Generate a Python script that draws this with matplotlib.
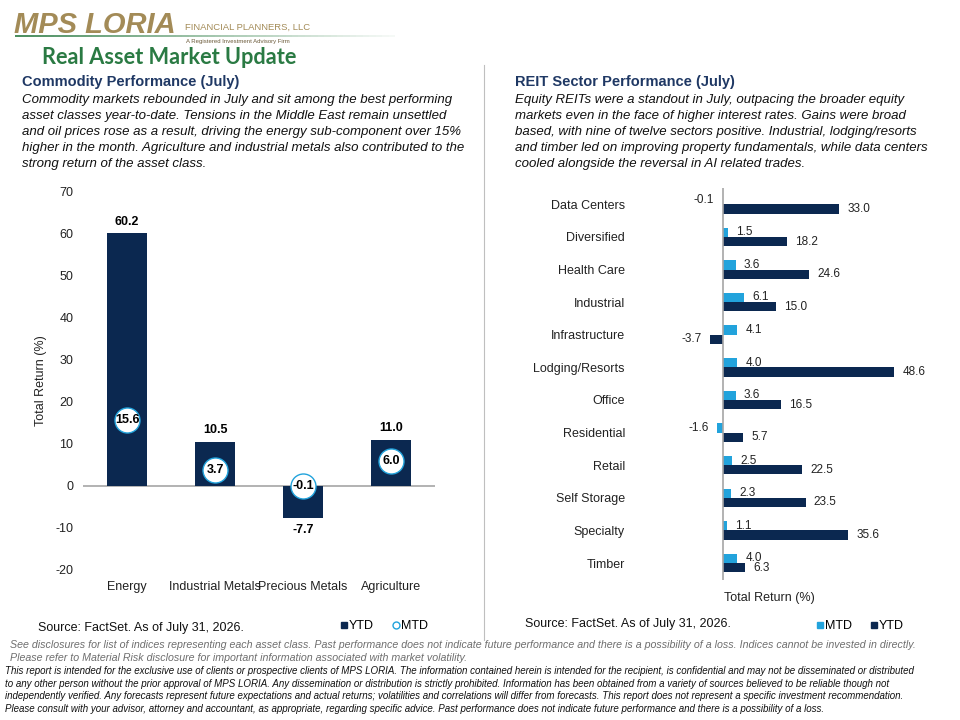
import matplotlib
matplotlib.use('Agg')
import matplotlib.pyplot as plt
from matplotlib.lines import Line2D
from matplotlib.collections import LineCollection
import numpy as np

plt.rcParams['axes.unicode_minus'] = False

# ---- data ----
commodities = ['Energy', 'Industrial Metals', 'Precious Metals', 'Agriculture']
comm_ytd = [60.2, 10.5, -7.7, 11.0]
comm_mtd = [15.6, 3.7, -0.1, 6.0]

sectors = ['Data Centers', 'Diversified', 'Health Care', 'Industrial', 'Infrastructure',
           'Lodging/Resorts', 'Office', 'Residential', 'Retail', 'Self Storage',
           'Specialty', 'Timber']
reit_mtd = [-0.1, 1.5, 3.6, 6.1, 4.1, 4.0, 3.6, -1.6, 2.5, 2.3, 1.1, 4.0]
reit_ytd = [33.0, 18.2, 24.6, 15.0, -3.7, 48.6, 16.5, 5.7, 22.5, 23.5, 35.6, 6.3]

NAVY = '#0b2850'
LIGHT = '#22a3dc'
HEAD = '#1f3864'
GREEN = '#2a7a43'
GOLD = '#a38b57'
ARIAL = ['Liberation Sans', 'DejaVu Sans']

W, H = 960, 720
fig = plt.figure(figsize=(9.6, 7.2), dpi=100)


def px(x, y):
    # pixel coords (from top-left) -> figure fraction
    return x / W, 1 - y / H


def ftext(x, y, s, **kw):
    fx, fy = px(x, y)
    kw.setdefault('family', ARIAL)
    kw.setdefault('va', 'center')
    return fig.text(fx, fy, s, **kw)


def add_axes(l, t, r, b):
    return fig.add_axes([l / W, 1 - b / H, (r - l) / W, (b - t) / H])


# ---- header / logo ----
xs = np.linspace(15, 395, 60)
segs = [[px(xs[i], 36), px(xs[i + 1], 36)] for i in range(len(xs) - 1)]
alphas = np.linspace(1, 0.05, len(segs))
lc = LineCollection(segs, colors=[(0.16, 0.48, 0.26, a) for a in alphas],
                    linewidths=1.2, transform=fig.transFigure)
fig.add_artist(lc)
ftext(14, 25, 'MPS LORIA', fontsize=21, fontweight='bold',
      fontstyle='italic', color=GOLD)
ftext(185, 27, 'FINANCIAL PLANNERS, LLC', fontsize=6.8, color=GOLD)
ftext(186, 42, 'A Registered Investment Advisory Firm', fontsize=4.3, color='#6b5a3a')
ftext(42, 57, 'Real Asset Market Update', family=['Lato', 'DejaVu Sans'],
      fontsize=15.7, fontweight='bold', color=GREEN)

# divider
fig.add_artist(Line2D([484 / W, 484 / W], [1 - 65 / H, 1 - 640 / H],
                      color='#bfbfbf', lw=0.8, transform=fig.transFigure))

# ---- section text ----
ftext(22, 82, 'Commodity Performance (July)', fontsize=10.5, fontweight='bold', color=HEAD)
left_body = [
    'Commodity markets rebounded in July and sit among the best performing',
    'asset classes year-to-date. Tensions in the Middle East remain unsettled',
    'and oil prices rose as a result, driving the energy sub-component over 15%',
    'higher in the month. Agriculture and industrial metals also contributed to the',
    'strong return of the asset class.',
]
for i, line in enumerate(left_body):
    ftext(22, 100 + 16 * i, line, fontsize=9.5, fontstyle='italic', color='#111111')

ftext(515, 82, 'REIT Sector Performance (July)', fontsize=10.5, fontweight='bold', color=HEAD)
right_body = [
    'Equity REITs were a standout in July, outpacing the broader equity',
    'markets even in the face of higher interest rates. Gains were broad',
    'based, with nine of twelve sectors positive. Industrial, lodging/resorts',
    'and timber led on improving property fundamentals, while data centers',
    'cooled alongside the reversal in AI related trades.',
]
for i, line in enumerate(right_body):
    ftext(515, 100 + 16 * i, line, fontsize=9.5, fontstyle='italic', color='#111111')

# ---- left chart: commodities ----
ax1 = add_axes(83, 192, 435, 570)
xpos = np.arange(len(commodities))
ax1.bar(xpos, comm_ytd, width=0.45, color=NAVY, zorder=2)
ax1.plot(xpos, comm_mtd, 'o', ms=18, mfc='white', mec=LIGHT, mew=1.0, zorder=3)
for x, v in zip(xpos, comm_ytd):
    if v >= 0:
        ax1.annotate(f'{v:.1f}', (x, v), xytext=(0, 4), textcoords='offset points',
                     ha='center', va='bottom', fontsize=9, fontweight='bold', family=ARIAL)
    else:
        ax1.annotate(f'{v:.1f}', (x, v), xytext=(0, -4), textcoords='offset points',
                     ha='center', va='top', fontsize=9, fontweight='bold', family=ARIAL)
for x, v in zip(xpos, comm_mtd):
    ax1.text(x, v, f'{v:.1f}', ha='center', va='center', fontsize=9,
             fontweight='bold', family=ARIAL, zorder=4)
ax1.axhline(0, color='#a6a6a6', lw=1.2, zorder=1)
ax1.set_xlim(-0.5, 3.5)
ax1.set_ylim(-20, 70)
ax1.set_yticks(range(-20, 71, 10))
ax1.set_xticks(xpos)
ax1.set_xticklabels(commodities)
for s in ax1.spines.values():
    s.set_visible(False)
ax1.tick_params(axis='both', length=0, labelsize=9, colors='#222222')
ax1.tick_params(axis='y', pad=7)
ax1.tick_params(axis='x', pad=8)
for lab in ax1.get_xticklabels() + ax1.get_yticklabels():
    lab.set_family(ARIAL)
ax1.set_ylabel('Total Return (%)', fontsize=9, family=ARIAL, color='#222222', labelpad=6)

h1 = [Line2D([], [], marker='s', ls='', color=NAVY, ms=5),
      Line2D([], [], marker='o', ls='', mfc='white', mec=LIGHT, ms=5, mew=1)]
fig.legend(h1, ['YTD', 'MTD'], loc='center', bbox_to_anchor=px(384, 626), ncol=2,
           frameon=False, handlelength=0.6, handletextpad=0.1,
           columnspacing=1.5, prop={'family': ARIAL, 'size': 9})
ftext(38, 628, 'Source: FactSet. As of July 31, 2026.', fontsize=9, color='#111111')

# ---- right chart: REIT sectors ----
ax2 = add_axes(700, 188, 920, 580)
ypos = np.arange(len(sectors))
bh = 0.285
ax2.barh(ypos - bh / 2, reit_mtd, height=bh, color=LIGHT, zorder=2)
ax2.barh(ypos + bh / 2, reit_ytd, height=bh, color=NAVY, zorder=2)
for vals, off in ((reit_mtd, -bh / 2), (reit_ytd, bh / 2)):
    for y, v in zip(ypos, vals):
        if v >= 0:
            ax2.annotate(f'{v:.1f}', (v, y + off), xytext=(6, 0), textcoords='offset points',
                         ha='left', va='center', fontsize=8.5, family=ARIAL, color='#222222')
        else:
            ax2.annotate(f'{v:.1f}', (v, y + off), xytext=(-6, 0), textcoords='offset points',
                         ha='right', va='center', fontsize=8.5, family=ARIAL, color='#222222')
ax2.axvline(0, color='#a6a6a6', lw=1.2, zorder=3)
ax2.set_xlim(-6.5, 56)
ax2.set_ylim(11.52, -0.5)
ax2.set_xticks([])
ax2.set_yticks(ypos)
ax2.set_yticklabels(sectors)
for s in ax2.spines.values():
    s.set_visible(False)
ax2.tick_params(axis='y', length=0, labelsize=9, colors='#222222', pad=54)
for lab in ax2.get_yticklabels():
    lab.set_family(ARIAL)
ftext(724, 598, 'Total Return (%)', fontsize=9, color='#222222')

h2 = [Line2D([], [], marker='s', ls='', color=LIGHT, ms=5),
      Line2D([], [], marker='s', ls='', color=NAVY, ms=5)]
fig.legend(h2, ['MTD', 'YTD'], loc='center', bbox_to_anchor=px(860, 626), ncol=2,
           frameon=False, handlelength=0.6, handletextpad=0.1,
           columnspacing=1.5, prop={'family': ARIAL, 'size': 9})
ftext(525, 624, 'Source: FactSet. As of July 31, 2026.', fontsize=9, color='#111111')

# ---- footer ----
ftext(10, 645, 'See disclosures for list of indices representing each asset class. Past performance '
      'does not indicate future performance and there is a possibility of a loss. Indices cannot be '
      'invested in directly.', fontsize=7.7, fontstyle='italic', color='#6e6e6e')
ftext(10, 658, 'Please refer to Material Risk disclosure for important information associated with '
      'market volatility.', fontsize=7.7, fontstyle='italic', color='#6e6e6e')
footer = [
    'This report is intended for the exclusive use of clients or prospective clients of MPS LORIA. '
    'The information contained herein is intended for the recipient, is confidential and may not be '
    'disseminated or distributed',
    'to any other person without the prior approval of MPS LORIA. Any dissemination or distribution is '
    'strictly prohibited. Information has been obtained from a variety of sources believed to be reliable though not',
    'independently verified. Any forecasts represent future expectations and actual returns; volatilities '
    'and correlations will differ from forecasts. This report does not represent a specific investment recommendation.',
    'Please consult with your advisor, attorney and accountant, as appropriate, regarding specific advice. '
    'Past performance does not indicate future performance and there is a possibility of a loss.',
]
for i, line in enumerate(footer):
    ftext(5, 671 + 12.6 * i, line, fontsize=7.0, fontstyle='italic', color='#111111')

fig.savefig('out.png', dpi=100)
